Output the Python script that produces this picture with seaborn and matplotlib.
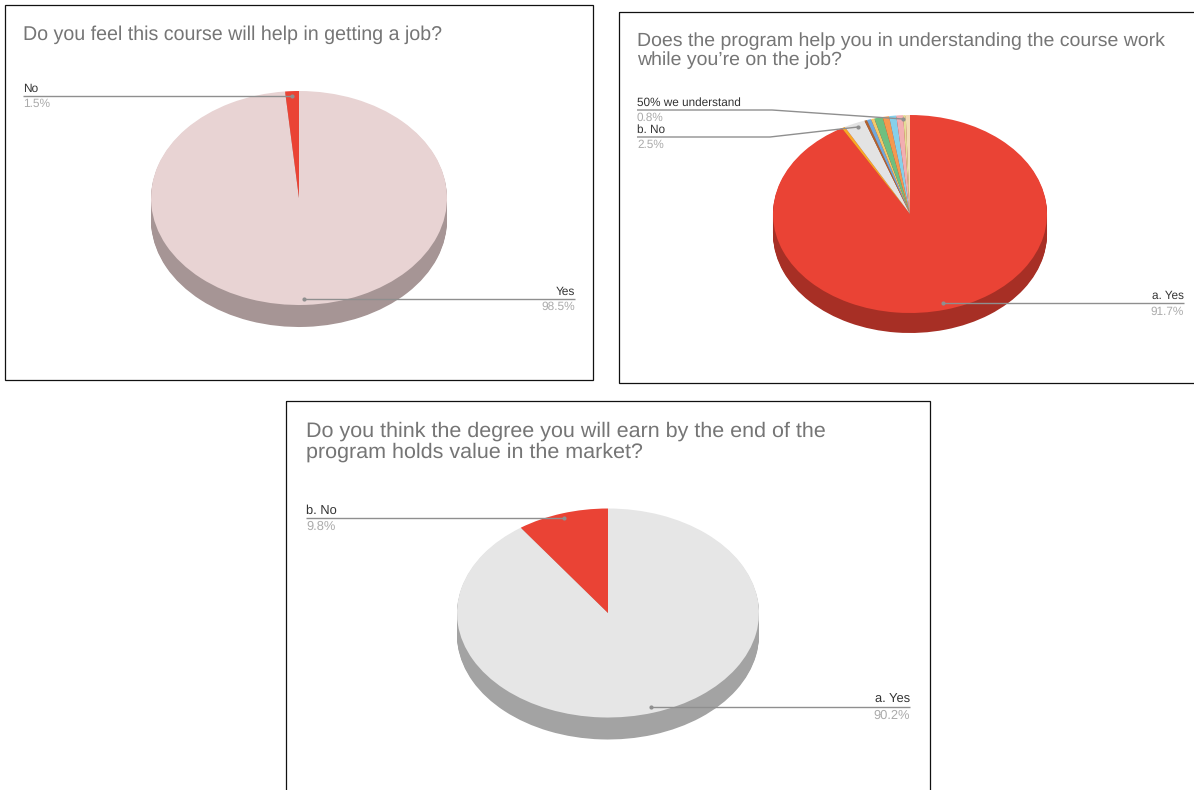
import matplotlib
matplotlib.use("Agg")
import matplotlib.pyplot as plt
from matplotlib.patches import Rectangle
import seaborn as sns

sns.set_theme(style="white")
plt.rcParams["font.family"] = ["Liberation Sans", "DejaVu Sans"]
plt.rcParams["text.hinting"] = "no_hinting"

FIG_W, FIG_H = 1194, 790

# Survey answers, one set of small lists per question
job_labels = ["Yes", "No"]
job_values = [98.5, 1.5]
job_colors = ["#E8D3D3", "#EA4335"]
job_sides = ["#A69595", "#A69595"]

work_values = [91.7, 0.4, 2.5, 0.3, 0.5, 0.4, 1.0, 0.75, 0.85, 0.8, 0.3, 0.5]
work_colors = ["#EA4335", "#F9A825", "#E3E3E3", "#B0652F", "#6FA8DC", "#F3C969",
               "#6FBF7F", "#F6994F", "#86D0EA", "#F2AEB1", "#E3DC95", "#F3D9B5"]
work_sides = ["#A72F25"] * len(work_values)

value_labels = ["a. Yes", "b. No"]
value_values = [90.2, 9.8]
value_colors = ["#E6E6E6", "#EA4335"]
value_sides = ["#A3A3A3", "#A3A3A3"]


def pixel_axes(fig, left, top, width, height):
    """Axes placed by pixel position measured from the top-left corner."""
    return fig.add_axes([left / FIG_W, 1 - (top + height) / FIG_H,
                         width / FIG_W, height / FIG_H])


def draw_pie(fig, cx, cy, rx, ry, depth, values, colors, sides):
    """Tilted pie: stacked darker copies form the rim, the top face goes last."""
    ax = pixel_axes(fig, cx - rx, cy - ry, 2 * rx, 2 * ry)
    style = {"linewidth": 0, "clip_on": False}
    for step in range(depth, 0, -1):
        ax.pie(values, colors=sides, startangle=90, counterclock=False,
               center=(0, -step / ry), wedgeprops=style)
    ax.pie(values, colors=colors, startangle=90, counterclock=False,
           center=(0, 0), wedgeprops=style)
    ax.set_aspect("auto")
    ax.set_xlim(-1, 1)
    ax.set_ylim(-1, 1)
    ax.patch.set_alpha(0)
    ax.set_zorder(2)


fig = plt.figure(figsize=(FIG_W / 100, FIG_H / 100), dpi=100, facecolor="white")

# Full-figure layer in pixel units for frames, titles and leader lines
back = fig.add_axes([0, 0, 1, 1], zorder=1)
back.set_xlim(0, FIG_W)
back.set_ylim(FIG_H, 0)
back.axis("off")
over = fig.add_axes([0, 0, 1, 1], zorder=3)
over.set_xlim(0, FIG_W)
over.set_ylim(FIG_H, 0)
over.axis("off")
over.patch.set_alpha(0)

for x, y, w, h in [(5, 5, 588, 375), (619, 12, 600, 371), (286, 400.5, 644, 420)]:
    back.add_patch(Rectangle((x, y), w, h, fill=False, edgecolor="#111111", linewidth=0.9))

TITLE = "#757575"
LINE = "#8F8F8F"
NAME = "#333333"
PCT = "#ABABAB"


def title(x, y, text, size):
    over.text(x, y, text, color=TITLE, fontsize=size, va="center", ha="left")


def callout(xs, ys, name, pct, pct_text_x, ha, name_y, pct_y, size):
    over.plot(xs, ys, color=LINE, linewidth=1.0, solid_capstyle="butt")
    dot_x = xs[-1] if ha == "left" else xs[0]
    dot_y = ys[-1] if ha == "left" else ys[0]
    over.plot([dot_x], [dot_y], "o", color=LINE, markersize=3, markeredgewidth=0)
    over.text(pct_text_x, name_y, name, color=NAME, fontsize=size, va="center", ha=ha)
    over.text(pct_text_x, pct_y, pct, color=PCT, fontsize=size, va="center", ha=ha)


# Course and job prospects
draw_pie(fig, 299, 198, 148, 107, 22, job_values, job_colors, job_sides)
title(23, 34.5, "Do you feel this course will help in getting a job?", 14.1)
callout([23, 292], [96, 96], job_labels[1], f"{job_values[1]}%", 23, "left", 89, 104, 8.6)
callout([304, 575], [299, 299], job_labels[0], f"{job_values[0]}%", 575, "right", 292, 307, 8.6)

# Course work while on the job
draw_pie(fig, 910, 214, 137, 99, 20, work_values, work_colors, work_sides)
title(637, 41, "Does the program help you in understanding the course work", 14.0)
title(637, 60, "while you’re on the job?", 14.0)
callout([637, 772, 903], [110, 110, 119], "50% we understand", f"{work_values[9]}%", 637, "left", 103, 118, 8.5)
callout([637, 770, 858], [137, 137, 127], "b. No", f"{work_values[2]}%", 637, "left", 130, 145, 8.5)
callout([943, 1184], [303, 303], "a. Yes", f"{work_values[0]}%", 1184, "right", 296, 312, 8.5)

# Value of the degree
draw_pie(fig, 608, 613, 151, 104.5, 22, value_values, value_colors, value_sides)
title(306, 431.5, "Do you think the degree you will earn by the end of the", 15.45)
title(306, 452.5, "program holds value in the market?", 15.45)
callout([306, 564], [518, 518], value_labels[1], f"{value_values[1]}%", 306, "left", 510.5, 526.5, 9.3)
callout([651, 910], [707, 707], value_labels[0], f"{value_values[0]}%", 910, "right", 699.5, 715.5, 9.3)

fig.savefig("out.png", dpi=100, facecolor="white")
